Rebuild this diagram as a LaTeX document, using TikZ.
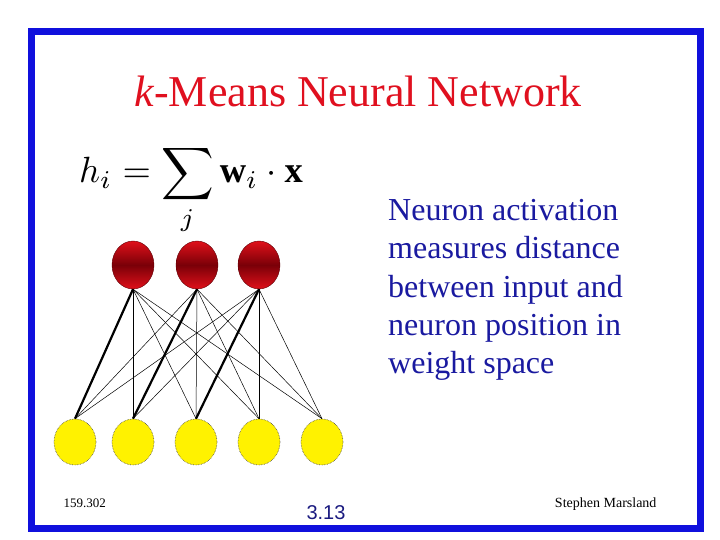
\documentclass[tikz,border=0pt]{standalone}
\usepackage{fontspec}
\setmainfont{Liberation Serif}
\newfontfamily\arialfont{Liberation Sans}
\usetikzlibrary{shapes.geometric}
\definecolor{frameblue}{HTML}{1010DD}
\definecolor{titlered}{HTML}{E0101F}
\definecolor{textblue}{HTML}{1A1AA0}
\definecolor{numblue}{HTML}{1A1A80}
\definecolor{darkred}{HTML}{7A0008}
\definecolor{brightred}{HTML}{E0101A}
\tikzset{
  hidden/.style={ellipse, minimum width=42pt, minimum height=48pt, inner sep=0pt,
    top color=brightred, bottom color=brightred, middle color=darkred, draw=darkred!80!black, line width=0.4pt},
  inputn/.style={ellipse, minimum width=42pt, minimum height=46pt, inner sep=0pt,
    fill=yellow, draw=black!70, densely dotted, line width=0.6pt},
  thin edge/.style={line width=0.5pt},
  thick edge/.style={line width=2.2pt},
}
\begin{document}
\begin{tikzpicture}[x=1pt,y=-1pt]
\useasboundingbox (0,0) rectangle (720,540);
\fill[white] (0,0) rectangle (720,540);
\draw[frameblue, line width=7pt] (31.5,32) rectangle (700,528);
% title
\node[titlered, font=\fontsize{44}{48}\selectfont, anchor=base] (title) at (358,107) {\textit{k}-Means Neural Network};
% formula
\node[anchor=base west, inner sep=0pt] (formula) at (79,183) {\scalebox{3.65}{$\displaystyle h_i=\sum_j \mathbf{w}_i\cdot\mathbf{x}$}};
% right text
\node[anchor=north west, align=left, textblue, font=\fontsize{32}{38.4}\selectfont, inner sep=0pt] (desc) at (388,199)
 {Neuron activation\\measures distance\\between input and\\neuron position in\\weight space};
% nodes
\node[hidden] (h1) at (133,265) {};
\node[hidden] (h2) at (197,265) {};
\node[hidden] (h3) at (259,265) {};
\node[inputn] (i1) at (75,442) {};
\node[inputn] (i2) at (133,442) {};
\node[inputn] (i3) at (196,442) {};
\node[inputn] (i4) at (259,442) {};
\node[inputn] (i5) at (322,442) {};
% edges
\foreach \h in {1,2,3}{
  \foreach \i in {1,...,5}{
    \draw[thin edge] (h\h.south) -- (i\i.north);
  }
}
\draw[thick edge] (h1.south) -- (i1.north);
\draw[thick edge] (h2.south) -- (i2.north);
\draw[thick edge] (h3.south) -- (i3.north);
% footer
\node[anchor=base west, font=\fontsize{13}{15}\selectfont] (course) at (60,507) {159.302};
\node[anchor=base, numblue, font=\arialfont\fontsize{20}{24}\selectfont] (page) at (326,519) {3.13};
\node[anchor=base east, font=\fontsize{14}{16}\selectfont] (author) at (660,507) {Stephen Marsland};
\end{tikzpicture}
\end{document}
